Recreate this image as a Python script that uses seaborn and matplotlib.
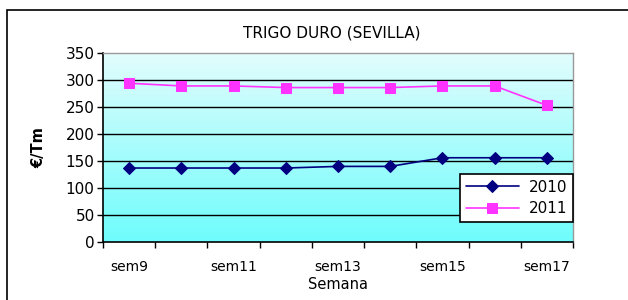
import numpy as np
import pandas as pd
import matplotlib
matplotlib.use("Agg")
import matplotlib.pyplot as plt
import seaborn as sns
from matplotlib.patches import Rectangle
from matplotlib.colors import LinearSegmentedColormap

semanas = ["sem9", "sem10", "sem11", "sem12", "sem13", "sem14", "sem15", "sem16", "sem17"]
v2010 = [137, 137, 137, 137, 140, 140, 156, 156, 156]
v2011 = [294, 289, 289, 286, 286, 286, 289, 289, 253]
yticks = [0, 50, 100, 150, 200, 250, 300, 350]
title = "TRIGO DURO (SEVILLA)"

sns.set_style("white")
plt.rcParams['font.family'] = ['DejaVu Sans']
plt.rcParams['text.color'] = 'black'
plt.rcParams['axes.labelcolor'] = 'black'
plt.rcParams['xtick.color'] = 'black'
plt.rcParams['ytick.color'] = 'black'

fig = plt.figure(figsize=(6.28, 3.0), dpi=100)
ax = fig.add_axes([103/628, 1-242/300, 470/628, 189/300])

# gradient background
grad = np.linspace(0, 1, 256).reshape(-1, 1)
cmap = LinearSegmentedColormap.from_list("g", ["#6ffcfc", "#e2fdfd"])
ax.imshow(grad, extent=[0, 1, 0, 1], transform=ax.transAxes, cmap=cmap,
          aspect='auto', origin='lower', zorder=0)

df = pd.DataFrame({"x": np.arange(len(semanas)), "2010": v2010, "2011": v2011})
sns.lineplot(data=df, x="x", y="2010", ax=ax, color="#000080", marker="D",
             markersize=6, markeredgecolor="#000080", linewidth=1.2, label="2010", zorder=3)
sns.lineplot(data=df, x="x", y="2011", ax=ax, color="#ff33ff", marker="s",
             markersize=7, markeredgecolor="#ff33ff", linewidth=1.2, label="2011", zorder=3)

ax.set_xlim(-0.5, len(semanas) - 0.5)
ax.set_ylim(0, 350)
ax.set_yticks(yticks)
ax.set_yticklabels([str(v) for v in yticks], fontsize=11)
for v in yticks[1:-1]:
    ax.axhline(v, color="black", linewidth=1.0, zorder=1)

ax.set_xticks(np.arange(-0.5, len(semanas), 1.0))
ax.set_xticklabels([])
ax.set_xticks(np.arange(0, len(semanas), 2), minor=True)
ax.set_xticklabels([semanas[i] for i in range(0, len(semanas), 2)], minor=True, fontsize=10)
ax.tick_params(axis='x', which='minor', length=0, pad=13)
ax.tick_params(axis='x', which='major', length=4, width=1, direction='out', color='black', bottom=True)
ax.tick_params(axis='y', length=4, width=1, direction='out', color='black', left=True, pad=2)

for s in ["left", "bottom"]:
    ax.spines[s].set_color("black")
    ax.spines[s].set_linewidth(1.2)
for s in ["top", "right"]:
    ax.spines[s].set_color("#999999")
    ax.spines[s].set_linewidth(1.0)

ax.set_xlabel("Semana", fontsize=10.5, labelpad=2)
ax.set_ylabel("€/Tm", fontsize=10.5, fontweight="bold", labelpad=14)

leg = ax.legend(loc="lower right", bbox_to_anchor=(1.0, 0.106), borderaxespad=0,
                fontsize=11, frameon=True, fancybox=False, handlelength=3.5,
                borderpad=0.4, labelspacing=0.4, handletextpad=0.6)
leg.get_frame().set_edgecolor("black")
leg.get_frame().set_linewidth(1.2)
leg.get_frame().set_facecolor("white")
leg.get_frame().set_alpha(1)

fig.text(332/628, 1-33/300, title, ha="center", va="center", fontsize=11)

rect = Rectangle((7/628, -0.1), 1.0, 1 - 10/300 + 0.1, transform=fig.transFigure,
                 fill=False, edgecolor="black", linewidth=1.2, clip_on=False)
fig.patches.append(rect)

fig.savefig("out.png", dpi=100)
